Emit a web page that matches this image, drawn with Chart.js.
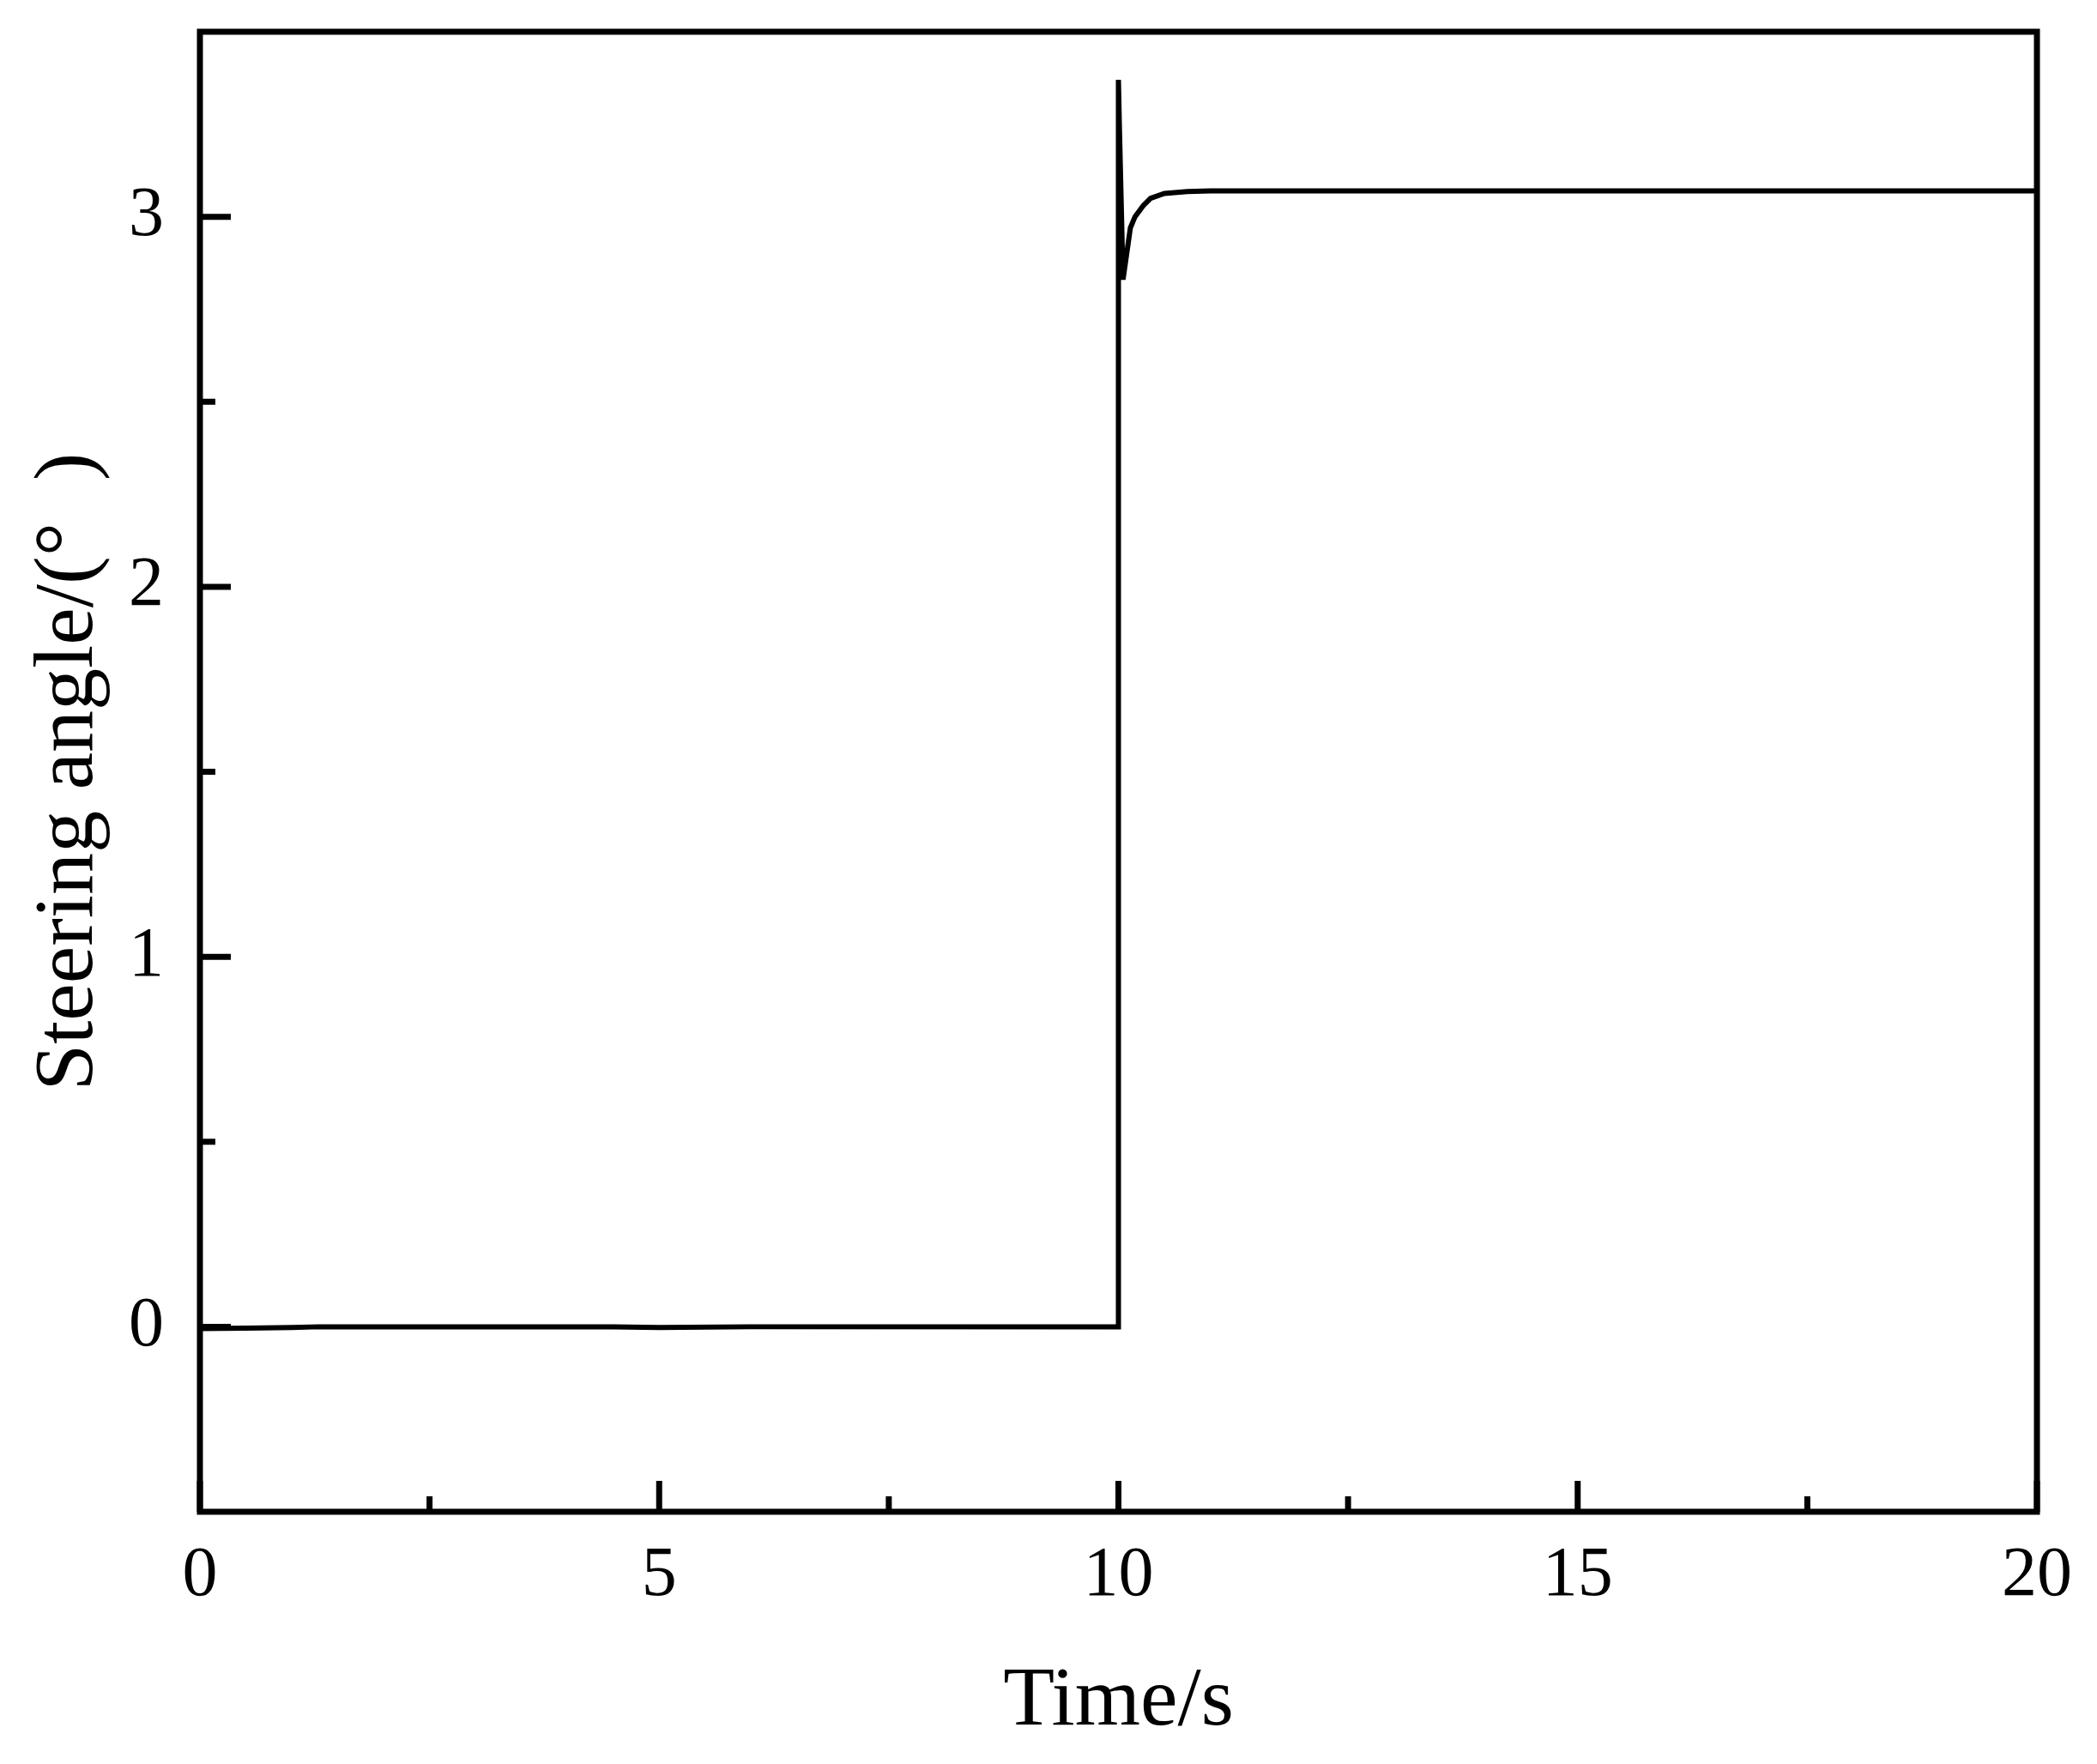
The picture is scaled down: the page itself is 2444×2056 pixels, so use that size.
<!DOCTYPE html>
<html>
<head>
<meta charset="utf-8">
<script src="https://cdn.jsdelivr.net/npm/chart.js@4/dist/chart.umd.min.js"></script>
<style>
  html, body { margin: 0; padding: 0; background: #ffffff; }
  #wrap { width: 2444px; height: 2056px; }
</style>
</head>
<body>
<div id="wrap"><canvas id="c" width="2444" height="2056"></canvas></div>
<script>
// ---- data ----
const timeValues  = [0, 0.5, 1.0, 1.3, 4.5, 5.0, 6.0, 10.0, 10.0, 10.01, 10.05, 10.09, 10.13, 10.18, 10.27, 10.35, 10.5, 10.75, 11.0, 20.0];
const angleValues = [-0.005, -0.004, -0.002, 0, 0, -0.002, 0, 0, 3.37, 3.25, 2.83, 2.9, 2.97, 3.0, 3.03, 3.05, 3.063, 3.068, 3.07, 3.07];

const xMajorTicks = [0, 5, 10, 15, 20];
const xMinorTicks = [2.5, 7.5, 12.5, 17.5];
const yMajorTicks = [0, 1, 2, 3];
const yMinorTicks = [0.5, 1.5, 2.5];

const xTitle = 'Time/s';
const yTitle = 'Steering angle/(°  )';

const points = timeValues.map((t, i) => ({ x: t, y: angleValues[i] }));

// frame and inward ticks drawn through the chart's scales
const framePlugin = {
  id: 'frame',
  afterDraw(chart) {
    const { ctx, chartArea: a, scales } = chart;
    ctx.save();
    ctx.strokeStyle = '#000';
    ctx.lineWidth = 7;
    ctx.lineCap = 'butt';
    const MAJ = 36, MIN = 18;
    ctx.beginPath();
    xMajorTicks.forEach(v => { const p = scales.x.getPixelForValue(v); ctx.moveTo(p, a.bottom); ctx.lineTo(p, a.bottom - MAJ); });
    xMinorTicks.forEach(v => { const p = scales.x.getPixelForValue(v); ctx.moveTo(p, a.bottom); ctx.lineTo(p, a.bottom - MIN); });
    yMajorTicks.forEach(v => { const p = scales.y.getPixelForValue(v); ctx.moveTo(a.left, p); ctx.lineTo(a.left + MAJ, p); });
    yMinorTicks.forEach(v => { const p = scales.y.getPixelForValue(v); ctx.moveTo(a.left, p); ctx.lineTo(a.left + MIN, p); });
    ctx.stroke();
    ctx.lineJoin = 'miter';
    ctx.strokeRect(a.left, a.top, a.right - a.left, a.bottom - a.top);
    ctx.restore();
  }
};

const tickFont = { family: "'Liberation Serif', 'Times New Roman', serif", size: 82 };
const titleFont = { family: "'Liberation Serif', 'Times New Roman', serif", size: 98 };

new Chart(document.getElementById('c'), {
  type: 'scatter',
  data: {
    datasets: [{
      data: points,
      showLine: true,
      borderColor: '#000',
      borderWidth: 6,
      pointRadius: 0,
      tension: 0,
      fill: false
    }]
  },
  options: {
    responsive: false,
    animation: false,
    devicePixelRatio: 1,
    layout: { padding: { left: 0, top: 37, right: 70, bottom: 0 } },
    plugins: { legend: { display: false }, tooltip: { enabled: false } },
    scales: {
      x: {
        type: 'linear', min: 0, max: 20,
        grid: { display: false, drawTicks: false },
        border: { display: false },
        ticks: { color: '#000', font: tickFont, padding: 26, maxRotation: 0 },
        afterBuildTicks: s => { s.ticks = xMajorTicks.map(v => ({ value: v })); },
        afterFit: s => { s.height = 294; s.paddingLeft = 0; s.paddingRight = 0; },
        title: { display: true, text: xTitle, color: '#000', font: titleFont, padding: { top: 0, bottom: 13 } }
      },
      y: {
        type: 'linear', min: -0.5, max: 3.5,
        grid: { display: false, drawTicks: false },
        border: { display: false },
        ticks: { color: '#000', font: tickFont, padding: 42 },
        afterBuildTicks: s => { s.ticks = yMajorTicks.map(v => ({ value: v })); },
        afterFit: s => { s.width = 233; s.paddingTop = 0; s.paddingBottom = 0; },
        title: { display: true, text: yTitle, color: '#000', font: titleFont, padding: { top: 22, bottom: 0 } }
      }
    }
  },
  plugins: [framePlugin]
});
</script>
</body>
</html>
